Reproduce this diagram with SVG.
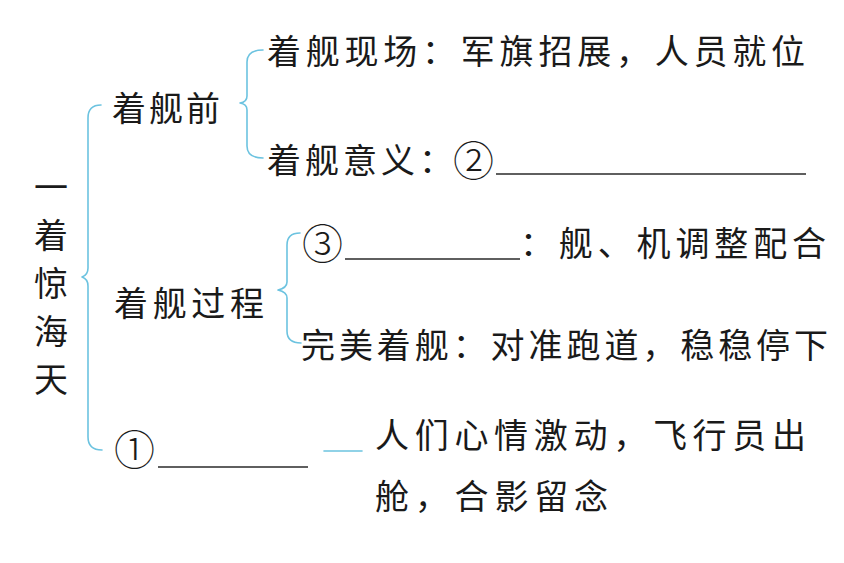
<svg xmlns="http://www.w3.org/2000/svg" width="844" height="563" viewBox="0 0 844 563">
<style>
.t{font-family:"Noto Sans CJK SC","Noto Sans CJK JP",sans-serif;font-size:34px;fill:#1a1a1a;dominant-baseline:central}
.c{font-size:41px;font-weight:300}
.br{fill:none;stroke:#6cc3e0;stroke-width:1.6;stroke-linecap:round;stroke-linejoin:round}
.ul{stroke:#2a2a2a;stroke-width:1.6}
</style>
<rect width="844" height="563" fill="#ffffff"/>
<g id="connectors">
<path class="br" d="M101,105 Q88,105 88,118 L88,268 Q88,275 82,277 Q88,279 88,286 L88,437 Q88,450 102,450"/>
<path class="br" d="M263,50 Q247,50 247,62 L247,96 Q247,102 240,103 Q247,104 247,110 L247,146 Q247,158 263,158"/>
<path class="br" d="M300,233 Q287,233 287,245 L287,282 Q287,288 278,290 Q287,292 287,298 L287,331 Q287,343 301,343"/>
<line class="br" x1="324" y1="451" x2="362" y2="451"/>
</g>
<g id="title">
<text class="t" x="51" y="185" text-anchor="middle">一</text>
<text class="t" x="51" y="233" text-anchor="middle">着</text>
<text class="t" x="51" y="281" text-anchor="middle">惊</text>
<text class="t" x="51" y="329" text-anchor="middle">海</text>
<text class="t" x="51" y="377" text-anchor="middle">天</text>
</g>
<g id="node-before">
<text class="t" x="112" y="106" textLength="108" lengthAdjust="spacing">着舰前</text>
</g>
<g id="node-scene">
<text class="t" x="267" y="49" textLength="538" lengthAdjust="spacing">着舰现场：军旗招展，人员就位</text>
</g>
<g id="node-meaning">
<text class="t" x="267" y="158" textLength="186" lengthAdjust="spacing">着舰意义：</text>
<text class="t c" x="453" y="158">②</text>
<line class="ul" x1="496" y1="174" x2="806" y2="174"/>
</g>
<g id="node-process">
<text class="t" x="114" y="301" textLength="150" lengthAdjust="spacing">着舰过程</text>
</g>
<g id="node-adjust">
<text class="t c" x="302" y="241">③</text>
<line class="ul" x1="345" y1="259" x2="520" y2="259"/>
<text class="t" x="520" y="241" textLength="306" lengthAdjust="spacing">：舰、机调整配合</text>
</g>
<g id="node-perfect">
<text class="t" x="301" y="343" textLength="527" lengthAdjust="spacing">完美着舰：对准跑道，稳稳停下</text>
</g>
<g id="node-after">
<text class="t c" x="114" y="447">①</text>
<line class="ul" x1="158" y1="467" x2="308" y2="467"/>
<text class="t" x="375" y="433" textLength="431" lengthAdjust="spacing">人们心情激动，飞行员出</text>
<text class="t" x="375" y="494" textLength="233" lengthAdjust="spacing">舱，合影留念</text>
</g>
</svg>
